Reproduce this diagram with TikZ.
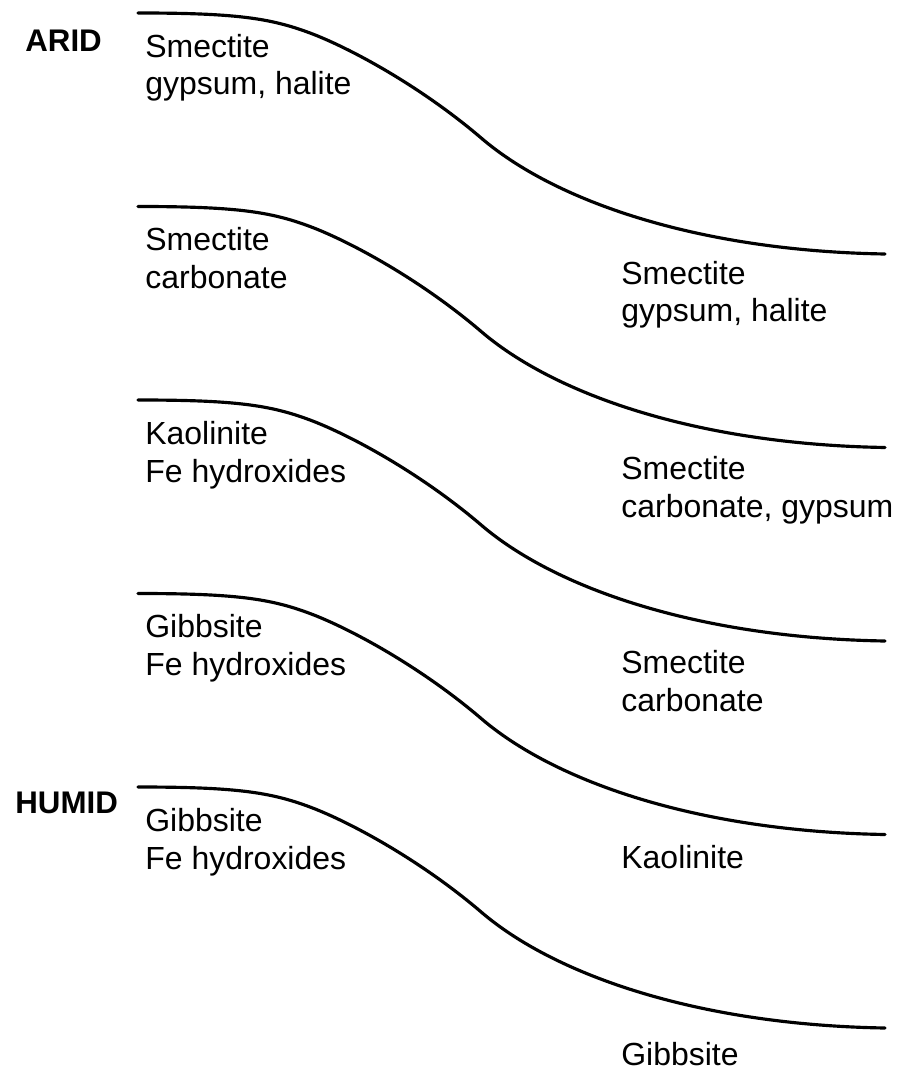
\documentclass[tikz,border=0pt]{standalone}
\usepackage{fontspec}
\setmainfont{Liberation Sans}
\tikzstyle{every node}=[font=\fontsize{18.2pt}{21.5pt}\selectfont]
\tikzstyle{boundary}=[line width=1.8pt, line cap=round]
\tikzstyle{mineral}=[anchor=base west, align=left, inner sep=0pt]
\tikzstyle{climate}=[anchor=base west, inner sep=0pt, font=\fontsize{17.8pt}{20pt}\selectfont\bfseries]

\begin{document}
\begin{tikzpicture}[x=0.02cm, y=-0.02cm]
		% Velikost obrazku
		\useasboundingbox (0,0) rectangle (900,1070);

		% Hranice pasem
		\foreach \i in {0,...,4}{
				\draw[boundary, shift={(0,13+193.5*\i)}] (138,0) .. controls (235,0) and (270,5) .. (310,20)
						.. controls (350,35) and (420,73) .. (480,124)
						.. controls (555,189) and (700,238) .. (885,241);
		}

		% Klima
		\node[climate] (arid) at (25,52) {ARID};
		\node[climate] (humid) at (15,813) {HUMID};

		% Mineraly vlevo (souradnice = posledni radek)
		\node[mineral] (l1) at (145,95) {Smectite\\gypsum, halite};
		\node[mineral] (l2) at (145,288.5) {Smectite\\carbonate};
		\node[mineral] (l3) at (145,482) {Kaolinite\\Fe hydroxides};
		\node[mineral] (l4) at (145,675.5) {Gibbsite\\Fe hydroxides};
		\node[mineral] (l5) at (145,869) {Gibbsite\\Fe hydroxides};

		% Mineraly vpravo
		\node[mineral] (r1) at (621,322) {Smectite\\gypsum, halite};
		\node[mineral] (r2) at (621,517) {Smectite\\carbonate, gypsum};
		\node[mineral] (r3) at (621,711) {Smectite\\carbonate};
		\node[mineral] (r4) at (621,868) {Kaolinite};
		\node[mineral] (r5) at (621,1065) {Gibbsite};
\end{tikzpicture}
\end{document}
